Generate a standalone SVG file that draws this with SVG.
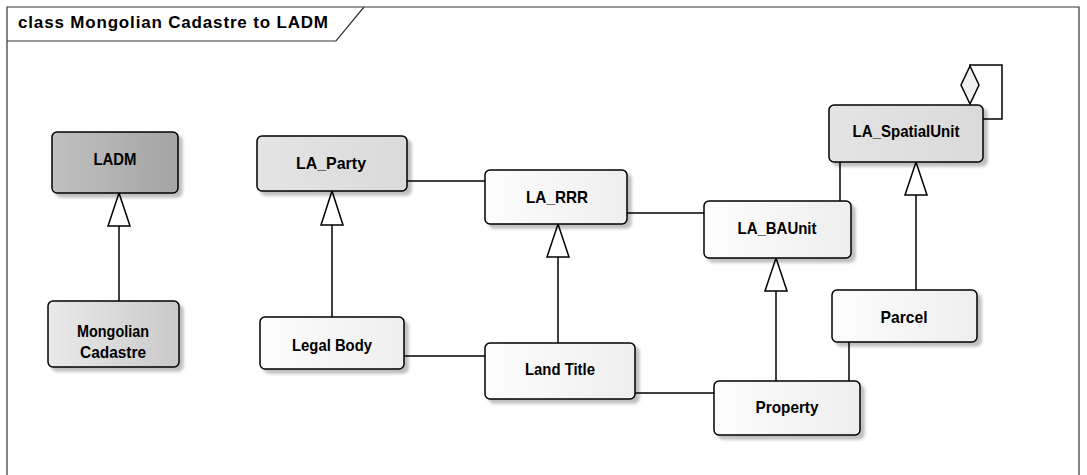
<svg xmlns="http://www.w3.org/2000/svg" width="1087" height="475" viewBox="0 0 1087 475">
<style>
.frame{fill:none;stroke:#333;stroke-width:1.2}
.box{stroke:#000;stroke-width:1.5;filter:url(#sh)}
.lbl{font-family:"Liberation Sans",Arial,sans-serif;font-weight:bold;font-size:17px;fill:#000;text-anchor:middle}
.title{font-family:"Liberation Sans",Arial,sans-serif;font-weight:bold;font-size:17px;fill:#000}
.ln{fill:none;stroke:#000;stroke-width:1.5}
.tri{fill:#fff;stroke:#000;stroke-width:1.5;stroke-linejoin:miter}
.dia{fill:#f0f0f0;stroke:#000;stroke-width:1.5}
</style>
<defs>
<linearGradient id="gDark" x1="0" y1="0" x2="1" y2="0"><stop offset="0" stop-color="#c0c0c0"/><stop offset="1" stop-color="#a4a4a4"/></linearGradient>
<linearGradient id="gMid" x1="0" y1="0" x2="1" y2="0"><stop offset="0" stop-color="#eaeaea"/><stop offset="1" stop-color="#c9c9c9"/></linearGradient>
<linearGradient id="gLight" x1="0" y1="0" x2="1" y2="0"><stop offset="0" stop-color="#e4e4e4"/><stop offset="1" stop-color="#dadada"/></linearGradient>
<linearGradient id="gWhite" x1="0" y1="0" x2="1" y2="0"><stop offset="0" stop-color="#fdfdfd"/><stop offset="1" stop-color="#eeeeee"/></linearGradient>
<filter id="sh" x="-10%" y="-10%" width="130%" height="140%"><feDropShadow dx="4" dy="4" stdDeviation="1.5" flood-color="#000" flood-opacity="0.25"/></filter>
</defs>

<g id="frame">
<path class="frame" d="M7,476 V7 H1079 V476"/>
<path class="frame" d="M7,41 H336 L364,7"/>
<text class="title" x="18" y="28" textLength="310">class Mongolian Cadastre to LADM</text>
</g>

<g id="connectors">
<path class="ln" d="M119,301 V226"/>
<path class="tri" d="M119,193 L130,226 L108,226 Z"/>
<path class="ln" d="M332,317 V225"/>
<path class="tri" d="M332,191 L343,225 L321,225 Z"/>
<path class="ln" d="M558,343 V257"/>
<path class="tri" d="M558,224 L569,257 L547,257 Z"/>
<path class="ln" d="M776,381 V291"/>
<path class="tri" d="M776,258 L787,291 L765,291 Z"/>
<path class="ln" d="M916,290 V195"/>
<path class="tri" d="M916,162 L927,195 L905,195 Z"/>
<path class="ln" d="M407,181 H485"/>
<path class="ln" d="M627,213 H704"/>
<path class="ln" d="M840,201 V162"/>
<path class="ln" d="M404,356 H485"/>
<path class="ln" d="M635,393 H714"/>
<path class="ln" d="M849,342 V381"/>
<path class="ln" d="M983,119 H1002 V65 H970 V67"/>
<path class="dia" d="M970,66 L979,85 L970,104 L961,85 Z"/>
</g>

<g id="LADM">
<rect class="box" x="52" y="132" width="126" height="61" rx="5" fill="url(#gDark)"/>
<text class="lbl" x="115" y="165" textLength="43" lengthAdjust="spacingAndGlyphs">LADM</text>
</g>
<g id="MongolianCadastre">
<rect class="box" x="48" y="301" width="131" height="66" rx="5" fill="url(#gMid)"/>
<text class="lbl" x="113" y="337" textLength="72" lengthAdjust="spacingAndGlyphs">Mongolian</text>
<text class="lbl" x="113" y="358" textLength="66" lengthAdjust="spacingAndGlyphs">Cadastre</text>
</g>
<g id="LA_Party">
<rect class="box" x="257" y="136" width="150" height="55" rx="5" fill="url(#gLight)"/>
<text class="lbl" x="331" y="169" textLength="70" lengthAdjust="spacingAndGlyphs">LA_Party</text>
</g>
<g id="LA_RRR">
<rect class="box" x="485" y="170" width="142" height="54" rx="5" fill="url(#gWhite)"/>
<text class="lbl" x="557" y="203" textLength="62" lengthAdjust="spacingAndGlyphs">LA_RRR</text>
</g>
<g id="LA_BAUnit">
<rect class="box" x="704" y="201" width="147" height="57" rx="5" fill="url(#gWhite)"/>
<text class="lbl" x="777" y="234" textLength="79" lengthAdjust="spacingAndGlyphs">LA_BAUnit</text>
</g>
<g id="LA_SpatialUnit">
<rect class="box" x="829" y="105" width="154" height="57" rx="5" fill="url(#gLight)"/>
<text class="lbl" x="906" y="137" textLength="107" lengthAdjust="spacingAndGlyphs">LA_SpatialUnit</text>
</g>
<g id="Parcel">
<rect class="box" x="832" y="290" width="145" height="52" rx="5" fill="url(#gWhite)"/>
<text class="lbl" x="904" y="323" textLength="47" lengthAdjust="spacingAndGlyphs">Parcel</text>
</g>
<g id="LegalBody">
<rect class="box" x="260" y="317" width="144" height="52" rx="5" fill="url(#gWhite)"/>
<text class="lbl" x="332" y="351" textLength="80" lengthAdjust="spacingAndGlyphs">Legal Body</text>
</g>
<g id="LandTitle">
<rect class="box" x="485" y="343" width="150" height="56" rx="5" fill="url(#gWhite)"/>
<text class="lbl" x="560" y="375" textLength="70" lengthAdjust="spacingAndGlyphs">Land Title</text>
</g>
<g id="Property">
<rect class="box" x="714" y="381" width="146" height="54" rx="5" fill="url(#gWhite)"/>
<text class="lbl" x="787" y="413" textLength="63" lengthAdjust="spacingAndGlyphs">Property</text>
</g>
</svg>
